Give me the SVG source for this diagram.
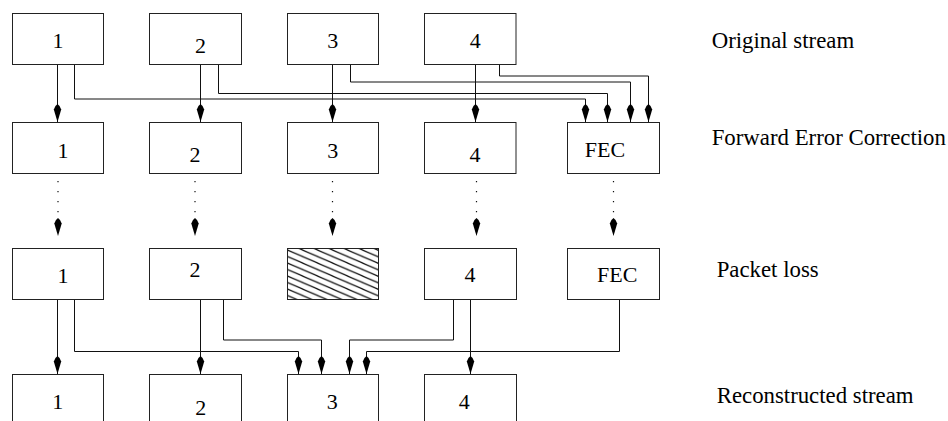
<svg xmlns="http://www.w3.org/2000/svg" width="948" height="421" viewBox="0 0 948 421">
<style>
.box{fill:#fff;stroke:#222;stroke-width:1}
.t{font-family:"Liberation Serif","Times New Roman",serif;font-size:22px;fill:#000;text-anchor:middle}
.lbl{font-family:"Liberation Serif","Times New Roman",serif;font-size:22.8px;fill:#000}
.c{fill:none;stroke:#111;stroke-width:1;marker-end:url(#ah)}
.d{fill:none;stroke:#111;stroke-width:1.2;stroke-dasharray:1.2 8.8;marker-end:url(#ah)}
</style>
<defs>
<marker id="ah" markerUnits="userSpaceOnUse" viewBox="-19 -5 20 10" refX="0" refY="0" markerWidth="20" markerHeight="10" orient="auto">
<path d="M0,0 L-12.5,-3.7 Q-16.5,-2.5 -18,0 Q-16.5,2.5 -12.5,3.7 Z" fill="#000"/>
</marker>
<pattern id="hatch" patternUnits="userSpaceOnUse" x="287.5" y="250" width="15" height="6.5">
<path d="M-1.25,-0.54 L16.25,7.04 M-1.25,5.96 L1.25,7.04 M13.75,-0.54 L16.25,0.54" stroke="#000" stroke-width="1.1"/>
</pattern>
</defs>
<rect width="948" height="421" fill="#fff"/>

<g id="connectors">
<path class="c" d="M57.5,64.5 V122"/>
<path class="c" d="M200.5,64.5 V122"/>
<path class="c" d="M332.5,64.5 V122"/>
<path class="c" d="M475.5,64.5 V122"/>
<path class="c" d="M74.5,64.5 V99 H585.5 V122"/>
<path class="c" d="M218.5,64.5 V93.5 H607.5 V122"/>
<path class="c" d="M350.5,64.5 V82 H630.5 V122"/>
<path class="c" d="M499.5,64.5 V76 H648.5 V122"/>

<path class="d" d="M58,181 V236"/>
<path class="d" d="M195,181 V236"/>
<path class="d" d="M332.5,181 V236"/>
<path class="d" d="M476.5,181 V236"/>
<path class="d" d="M613.5,181 V236"/>

<path class="c" d="M57.5,299.5 V374"/>
<path class="c" d="M200.5,299.5 V374"/>
<path class="c" d="M470.5,299.5 V374"/>
<path class="c" d="M74.5,299.5 V351.5 H298.5 V374"/>
<path class="c" d="M223.5,299.5 V340 H321.5 V374"/>
<path class="c" d="M453.5,299.5 V340 H349.5 V374"/>
<path class="c" d="M619.5,299.5 V351.5 H366.5 V374"/>
</g>

<g id="orig-1"><rect class="box" x="12.5" y="13.5" width="91" height="51"/><text class="t" x="58" y="47.7">1</text></g>
<g id="orig-2"><rect class="box" x="149.5" y="13.5" width="92" height="51"/><text class="t" x="200.5" y="53.3">2</text></g>
<g id="orig-3"><rect class="box" x="287.5" y="13.5" width="91" height="51"/><text class="t" x="332.7" y="47.7">3</text></g>
<g id="orig-4"><rect class="box" x="424.5" y="13.5" width="91.5" height="51"/><text class="t" x="475.3" y="47.7">4</text></g>

<g id="fec-1"><rect class="box" x="12.5" y="122.5" width="91" height="51"/><text class="t" x="63" y="157.7">1</text></g>
<g id="fec-2"><rect class="box" x="149.5" y="122.5" width="92" height="51"/><text class="t" x="195" y="162.3">2</text></g>
<g id="fec-3"><rect class="box" x="287.5" y="122.5" width="91" height="51"/><text class="t" x="332.7" y="157.7">3</text></g>
<g id="fec-4"><rect class="box" x="424.5" y="122.5" width="91.5" height="51"/><text class="t" x="475" y="162.3">4</text></g>
<g id="fec-fec"><rect class="box" x="567.5" y="122.5" width="92" height="51"/><text class="t" x="605" y="156.7">FEC</text></g>

<g id="loss-1"><rect class="box" x="12.5" y="248.5" width="91" height="51"/><text class="t" x="63" y="283.3">1</text></g>
<g id="loss-2"><rect class="box" x="149.5" y="248.5" width="92" height="51"/><text class="t" x="195" y="277.3">2</text></g>
<g id="loss-3"><rect x="287.5" y="248.5" width="91" height="51" fill="url(#hatch)" stroke="#222" stroke-width="1"/></g>
<g id="loss-4"><rect class="box" x="424.5" y="248.5" width="92" height="51"/><text class="t" x="470" y="282.3">4</text></g>
<g id="loss-fec"><rect class="box" x="567.5" y="248.5" width="92" height="51"/><text class="t" x="617.3" y="282.3">FEC</text></g>

<g id="rec-1"><rect class="box" x="12.5" y="374.5" width="91" height="60"/><text class="t" x="57.7" y="409">1</text></g>
<g id="rec-2"><rect class="box" x="149.5" y="374.5" width="92" height="60"/><text class="t" x="200.7" y="415">2</text></g>
<g id="rec-3"><rect class="box" x="287.5" y="374.5" width="91" height="60"/><text class="t" x="332.3" y="409">3</text></g>
<g id="rec-4"><rect class="box" x="424.5" y="374.5" width="92" height="60"/><text class="t" x="464.3" y="409">4</text></g>

<g id="labels">
<text class="lbl" x="711.7" y="48">Original stream</text>
<text class="lbl" x="711.7" y="145">Forward Error Correction</text>
<text class="lbl" x="716.7" y="276.7">Packet loss</text>
<text class="lbl" x="716.7" y="403.3">Reconstructed stream</text>
</g>
</svg>
